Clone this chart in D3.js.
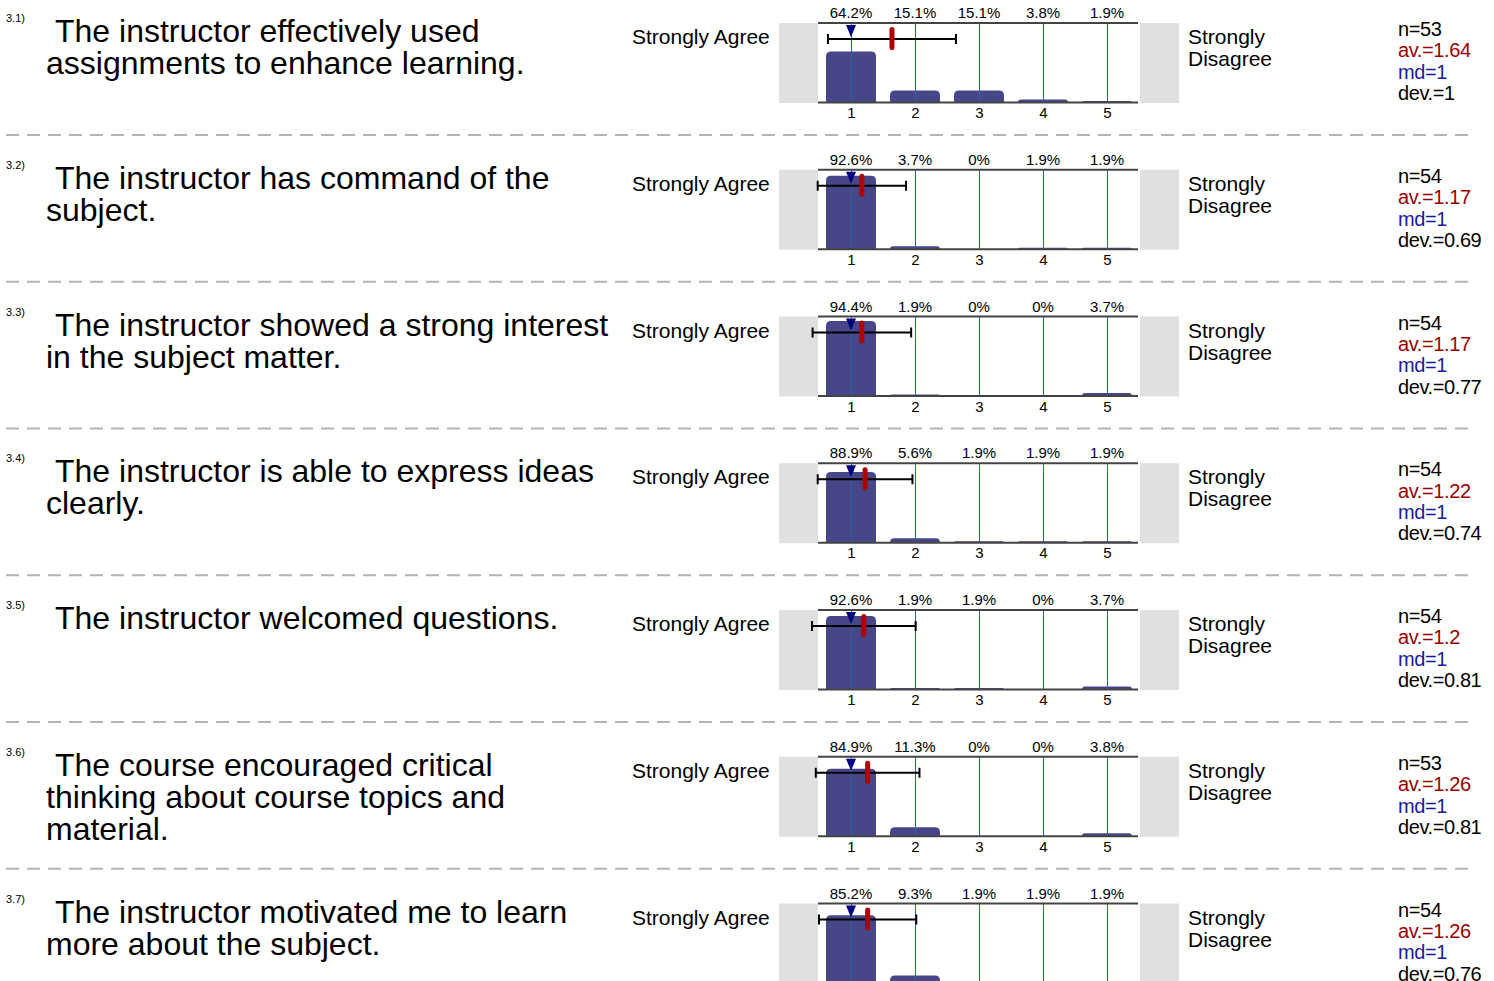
<!DOCTYPE html>
<html>
<head>
<meta charset="utf-8">
<script src="https://cdn.jsdelivr.net/npm/d3@7"></script>
<style>
  body { margin: 0; background: #fff; overflow: hidden; }
  text { font-family: "Liberation Sans", Arial, sans-serif; }
</style>
</head>
<body>
<svg id="chart"></svg>
<script>
const itemIds = ['3.1)', '3.2)', '3.3)', '3.4)', '3.5)', '3.6)', '3.7)'];
const questions = [
  ['The instructor effectively used', 'assignments to enhance learning.'],
  ['The instructor has command of the', 'subject.'],
  ['The instructor showed a strong interest', 'in the subject matter.'],
  ['The instructor is able to express ideas', 'clearly.'],
  ['The instructor welcomed questions.'],
  ['The course encouraged critical', 'thinking about course topics and', 'material.'],
  ['The instructor motivated me to learn', 'more about the subject.']
];
const scaleValues = [1, 2, 3, 4, 5];
const percents = [
  [64.2, 15.1, 15.1, 3.8, 1.9],
  [92.6, 3.7, 0, 1.9, 1.9],
  [94.4, 1.9, 0, 0, 3.7],
  [88.9, 5.6, 1.9, 1.9, 1.9],
  [92.6, 1.9, 1.9, 0, 3.7],
  [84.9, 11.3, 0, 0, 3.8],
  [85.2, 9.3, 1.9, 1.9, 1.9]
];
const counts = [53, 54, 54, 54, 54, 53, 54];
const means = [1.64, 1.17, 1.17, 1.22, 1.2, 1.26, 1.26];
const medians = [1, 1, 1, 1, 1, 1, 1];
const devs = [1, 0.69, 0.77, 0.74, 0.81, 0.81, 0.76];
const leftLabel = 'Strongly Agree';
const rightLabel = ['Strongly', 'Disagree'];

const rowHeight = 146.75;

const svg = d3.select('#chart')
  .attr('width', 1494)
  .attr('height', rowHeight * itemIds.length + 10);

// scales shared by every item
const x = d3.scaleLinear().domain([0.5, 5.5]).range([819, 1139]);
const y = d3.scaleLinear().domain([0, 100]).range([102.5, 23]);
const plotTop = 23, plotBottom = 102.5;
const barWidth = 50;

// bar with rounded top corners only
function barPath(cx, top, bottom) {
  const h = bottom - top;
  const r = Math.min(5, h, barWidth / 2);
  const l = cx - barWidth / 2, rr = cx + barWidth / 2;
  return `M${l},${bottom} L${l},${top + r} Q${l},${top} ${l + r},${top} L${rr - r},${top} Q${rr},${top} ${rr},${top + r} L${rr},${bottom} Z`;
}

itemIds.forEach((id, i) => {
  const g = svg.append('g').attr('transform', `translate(0,${i * rowHeight})`);

  // left text
  g.append('text')
    .attr('x', 6).attr('y', 22)
    .style('font-size', '11px')
    .text(id);

  g.selectAll('.question')
    .data(questions[i])
    .join('text')
    .attr('class', 'question')
    .attr('x', (d, j) => j === 0 ? 55 : 46)
    .attr('y', (d, j) => 42 + j * 32)
    .style('font-size', '32px')
    .text(d => d);

  g.append('text')
    .attr('x', 632).attr('y', 44)
    .style('font-size', '21px')
    .text(leftLabel);

  // grey end boxes
  g.append('rect').attr('x', 779).attr('y', plotTop).attr('width', 39).attr('height', plotBottom - plotTop + 0.5).attr('fill', '#e0e0e0');
  g.append('rect').attr('x', 1140).attr('y', plotTop).attr('width', 39).attr('height', plotBottom - plotTop + 0.5).attr('fill', '#e0e0e0');

  // bars
  const rows = scaleValues.map((v, j) => ({ v: v, p: percents[i][j] }));
  g.selectAll('.bar')
    .data(rows.filter(d => d.p > 0))
    .join('path')
    .attr('class', 'bar')
    .attr('d', d => barPath(x(d.v), Math.min(y(d.p), plotBottom - 1.5), plotBottom))
    .attr('fill', '#464689');

  // vertical grid lines
  g.selectAll('.grid')
    .data(scaleValues)
    .join('line')
    .attr('class', 'grid')
    .attr('x1', d => x(d) + 0.5).attr('x2', d => x(d) + 0.5)
    .attr('y1', plotTop).attr('y2', plotBottom)
    .attr('stroke', '#2a64a8')
    .attr('stroke-width', 1)
    .attr('shape-rendering', 'crispEdges');

  // top and bottom rules
  [plotTop, plotBottom].forEach(yy => {
    g.append('line')
      .attr('x1', 818).attr('x2', 1138)
      .attr('y1', yy).attr('y2', yy)
      .attr('stroke', '#444')
      .attr('stroke-width', 2);
  });

  // percent labels
  g.selectAll('.pct')
    .data(rows)
    .join('text')
    .attr('class', 'pct')
    .attr('x', d => x(d.v))
    .attr('y', 18)
    .attr('text-anchor', 'middle')
    .style('font-size', '15px')
    .text(d => d.p + '%');

  // tick labels
  const axis = g.append('g')
    .attr('transform', `translate(0,${plotBottom + 2})`)
    .call(d3.axisBottom(x).tickValues(scaleValues).tickSize(0).tickPadding(3).tickFormat(d3.format('d')));
  axis.select('.domain').remove();
  axis.selectAll('text')
    .style('font-family', '"Liberation Sans", Arial, sans-serif')
    .style('font-size', '15px')
    .attr('fill', '#000');

  // deviation bar
  const ey = 39;
  const lo = x(means[i] - devs[i]), hi = x(means[i] + devs[i]);
  g.append('line').attr('x1', lo).attr('x2', hi).attr('y1', ey).attr('y2', ey).attr('stroke', '#000').attr('stroke-width', 2);
  [lo, hi].forEach(xx => {
    g.append('line').attr('x1', xx).attr('x2', xx).attr('y1', ey - 5).attr('y2', ey + 5).attr('stroke', '#000').attr('stroke-width', 2);
  });

  // median triangle
  const mx = x(medians[i]);
  g.append('path')
    .attr('d', `M${mx - 5},25 L${mx + 5},25 L${mx},37 Z`)
    .attr('fill', '#00007f');

  // mean marker
  g.append('rect')
    .attr('x', x(means[i]) - 2.5).attr('y', 27)
    .attr('width', 5).attr('height', 23)
    .attr('rx', 2.5)
    .attr('fill', '#b00000');

  // right labels
  g.selectAll('.rlab')
    .data(rightLabel)
    .join('text')
    .attr('class', 'rlab')
    .attr('x', 1188)
    .attr('y', (d, j) => 44 + j * 22)
    .style('font-size', '21px')
    .text(d => d);

  const stats = [
    { t: 'n=' + counts[i], c: '#000' },
    { t: 'av.=' + means[i], c: '#9b0000' },
    { t: 'md=' + medians[i], c: '#1a1a9a' },
    { t: 'dev.=' + devs[i], c: '#000' }
  ];
  g.selectAll('.stat')
    .data(stats)
    .join('text')
    .attr('class', 'stat')
    .attr('x', 1398)
    .attr('y', (d, j) => 36 + j * 21.4)
    .style('font-size', '20px')
    .style('letter-spacing', '-0.4px')
    .attr('fill', d => d.c)
    .text(d => d.t);

  // dashed separator
  g.append('line')
    .attr('x1', 6).attr('x2', 1470)
    .attr('y1', 135).attr('y2', 135)
    .attr('stroke', '#b4b4b4')
    .attr('stroke-width', 2)
    .attr('stroke-dasharray', '13,8');
});
</script>
</body>
</html>
